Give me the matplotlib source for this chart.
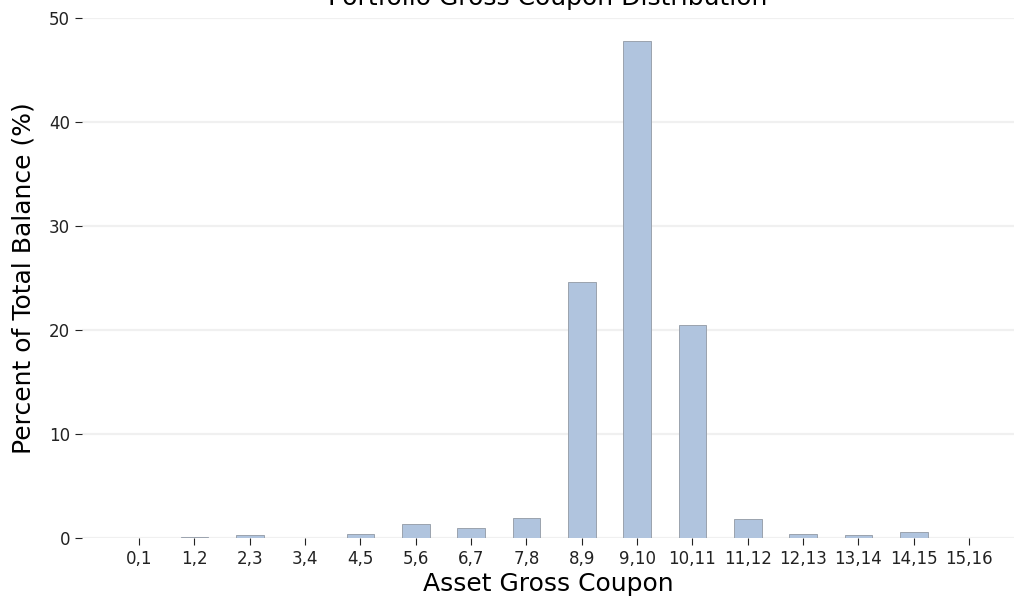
import numpy as np
import matplotlib
matplotlib.use("Agg")
import matplotlib.pyplot as plt

# coupon buckets and share of total balance (%)
buckets = ["0,1", "1,2", "2,3", "3,4", "4,5", "5,6", "6,7", "7,8",
           "8,9", "9,10", "10,11", "11,12", "12,13", "13,14", "14,15", "15,16"]
pct_balance = [0.0, 0.1, 0.25, 0.0, 0.4, 1.3, 0.95, 1.95,
               24.6, 47.8, 20.5, 1.8, 0.4, 0.25, 0.55, 0.0]

fig = plt.figure(figsize=(10.14, 6.01), dpi=100)
ax = fig.add_axes([82 / 1014, 1 - 538 / 601, 1 - 82 / 1014, (538 - 18) / 601])

x = np.arange(len(buckets))
ax.bar(x, pct_balance, width=0.5, color="lightsteelblue",
       edgecolor="#9ba3ae", linewidth=0.7, zorder=3)

ax.set_xticks(x)
ax.set_xticklabels(buckets)
ax.set_xlim(-1.03, 15.81)
ax.set_ylim(0, 50)
ax.set_yticks([0, 10, 20, 30, 40, 50])
ax.tick_params(axis="both", labelsize=12, colors="#222222", length=5)
ax.grid(axis="y", color="#f0f0f0", linewidth=1.6, zorder=0)
for s in ax.spines.values():
    s.set_visible(False)

ax.set_xlabel("Asset Gross Coupon", fontsize=18, labelpad=3)
ax.set_ylabel("Percent of Total Balance (%)", fontsize=18, labelpad=10)
ax.set_title("Portfolio Gross Coupon Distribution", fontsize=18, pad=9)

fig.savefig("out.png", dpi=100)
